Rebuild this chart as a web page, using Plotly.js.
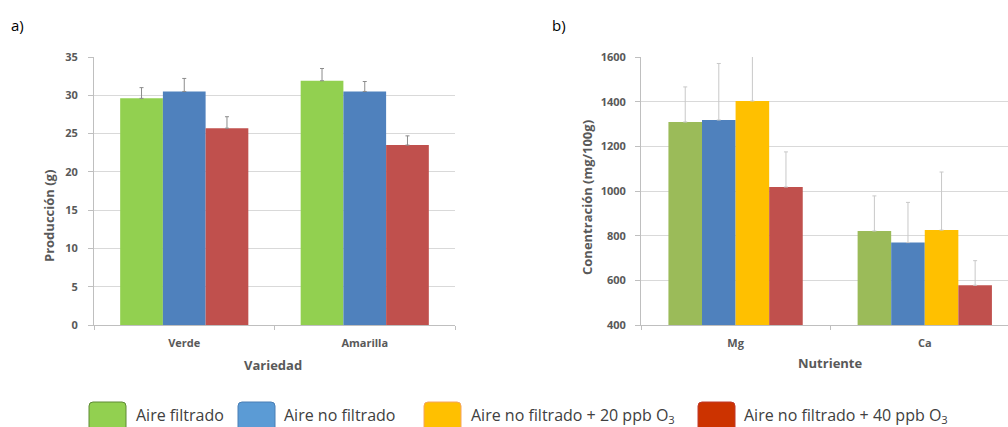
<!DOCTYPE html>
<html>
<head>
<meta charset="utf-8">
<script src="https://cdn.plot.ly/plotly-3.0.1.min.js"></script>
<style>html,body{margin:0;padding:0;background:#fff;}#chart{width:1008px;height:427px;}</style>
</head>
<body>
<div id="chart"></div>
<script>
// ---- Data: panel a) Producción (g) por variedad ----
var variedades = ["Verde", "Amarilla"];
var prodFiltrado = [29.6, 31.9];
var prodFiltradoErr = [1.4, 1.6];
var prodNoFiltrado = [30.5, 30.5];
var prodNoFiltradoErr = [1.7, 1.3];
var prod40 = [25.7, 23.5];
var prod40Err = [1.5, 1.2];

// ---- Data: panel b) Concentración (mg/100g) por nutriente ----
var nutrientes = ["Mg", "Ca"];
var concFiltrado = [1309, 821];
var concFiltradoErr = [157, 157];
var concNoFiltrado = [1318, 769];
var concNoFiltradoErr = [253, 180];
var conc20 = [1403, 825];
var conc20Err = [200, 260];
var conc40 = [1018, 578];
var conc40Err = [157, 110];

// ---- Legend labels ----
var legendLabels = ["Aire filtrado", "Aire no filtrado", "Aire no filtrado + 20 ppb O<sub>3</sub>", "Aire no filtrado + 40 ppb O<sub>3</sub>"];

var W = 1008, H = 427;
var tickFont = {family: "Open Sans", size: 11, color: "#595959", weight: "bold"};
var titleFont = {family: "Open Sans", size: 13, color: "#595959", weight: "bold"};

function errA(arr){ return {type:"data", symmetric:false, array:arr, arrayminus:arr.map(function(){return 0;}), color:"#8c8c8c", thickness:1, width:2}; }
function errB(arr){ return {type:"data", symmetric:false, array:arr, arrayminus:arr.map(function(){return 0;}), color:"#c8c8c8", thickness:1, width:2}; }

var traces = [
  {type:"bar", x:variedades, y:prodFiltrado, name:"Aire filtrado", marker:{color:"#92D050"}, error_y:errA(prodFiltradoErr), xaxis:"x", yaxis:"y"},
  {type:"bar", x:variedades, y:prodNoFiltrado, name:"Aire no filtrado", marker:{color:"#4F81BD"}, error_y:errA(prodNoFiltradoErr), xaxis:"x", yaxis:"y"},
  {type:"bar", x:variedades, y:prod40, name:"Aire no filtrado + 40 ppb O3", marker:{color:"#C0504D"}, error_y:errA(prod40Err), xaxis:"x", yaxis:"y"},
  {type:"bar", x:nutrientes, y:concFiltrado, name:"Aire filtrado", marker:{color:"#9BBB59"}, error_y:errB(concFiltradoErr), xaxis:"x2", yaxis:"y2"},
  {type:"bar", x:nutrientes, y:concNoFiltrado, name:"Aire no filtrado", marker:{color:"#4F81BD"}, error_y:errB(concNoFiltradoErr), xaxis:"x2", yaxis:"y2"},
  {type:"bar", x:nutrientes, y:conc20, name:"Aire no filtrado + 20 ppb O3", marker:{color:"#FFC000"}, error_y:errB(conc20Err), xaxis:"x2", yaxis:"y2"},
  {type:"bar", x:nutrientes, y:conc40, name:"Aire no filtrado + 40 ppb O3", marker:{color:"#C0504D"}, error_y:errB(conc40Err), xaxis:"x2", yaxis:"y2"}
];
traces.forEach(function(t){ t.marker.line = {width:0}; t.showlegend = false; });

function px(x){ return x / W; }
function py(y){ return 1 - y / H; }

var yDom = [py(325), py(57)];

var layout = {
  width: W, height: H,
  margin: {l:0, r:0, t:0, b:0},
  paper_bgcolor: "#ffffff", plot_bgcolor: "#ffffff",
  showlegend: false,
  barmode: "group",
  bargap: 0.29,
  font: {family: "Open Sans", color: "#595959"},
  xaxis: {domain:[px(94), px(455)], type:"category", tickfont:tickFont, showline:true, linecolor:"#bfbfbf", linewidth:1,
          ticks:"outside", ticklen:4, tickcolor:"#bfbfbf", tickson:"boundaries", showgrid:false, anchor:"y", ticklabelstandoff:8},
  yaxis: {domain:yDom, range:[0,35], dtick:5, tickfont:tickFont, showline:true, linecolor:"#bfbfbf", linewidth:1,
          ticks:"outside", ticklen:5, tickcolor:"#bfbfbf", gridcolor:"#d9d9d9", gridwidth:1, zeroline:false, anchor:"x", ticklabelstandoff:8},
  xaxis2: {domain:[px(641), 1], type:"category", range:[-0.5, 1.44], tickfont:tickFont, showline:true, linecolor:"#bfbfbf", linewidth:1,
          ticks:"outside", ticklen:4, tickcolor:"#bfbfbf", tickson:"boundaries", showgrid:false, anchor:"y2", ticklabelstandoff:8},
  yaxis2: {domain:yDom, range:[400,1600], dtick:200, tickfont:tickFont, showline:true, linecolor:"#bfbfbf", linewidth:1,
          ticks:"outside", ticklen:5, tickcolor:"#bfbfbf", gridcolor:"#d9d9d9", gridwidth:1, zeroline:false, anchor:"x2", ticklabelstandoff:7},
  annotations: [],
  shapes: []
};

// Panel labels and axis titles
layout.annotations.push({text:"a)", xref:"paper", yref:"paper", x:px(9), y:py(25), xanchor:"left", yanchor:"middle", showarrow:false, font:{family:"Open Sans", size:15, color:"#000"}});
layout.annotations.push({text:"b)", xref:"paper", yref:"paper", x:px(550), y:py(25), xanchor:"left", yanchor:"middle", showarrow:false, font:{family:"Open Sans", size:15, color:"#000"}});
layout.annotations.push({text:"Producción (g)", xref:"paper", yref:"paper", x:px(49), y:py(216), xanchor:"center", yanchor:"middle", textangle:-90, showarrow:false, font:titleFont});
layout.annotations.push({text:"Variedad", xref:"paper", yref:"paper", x:px(273), y:py(365), xanchor:"center", yanchor:"middle", showarrow:false, font:titleFont});
layout.annotations.push({text:"Conentración (mg/100g)", xref:"paper", yref:"paper", x:px(587), y:py(198), xanchor:"center", yanchor:"middle", textangle:-90, showarrow:false, font:titleFont});
layout.annotations.push({text:"Nutriente", xref:"paper", yref:"paper", x:px(830), y:py(363), xanchor:"center", yanchor:"middle", showarrow:false, font:titleFont});

// Custom legend (rounded swatches)
var swatchFill = ["#92D050", "#5B9BD5", "#FFC000", "#CC3300"];
var swatchLine = ["#5E8A34", "#4A7FB5", "#F4A460", "#C0392B"];
var swatchX = [89, 238, 424, 698];
var textX = [134, 282, 469, 742];
function roundedRect(x0, y0, x1, y1, r){
  var rx = r / W, ry = r / H;
  var X0 = px(x0), X1 = px(x1), Y0 = py(y0), Y1 = py(y1);
  return "M" + (X0+rx) + "," + Y0 + " L" + (X1-rx) + "," + Y0 + " Q" + X1 + "," + Y0 + " " + X1 + "," + (Y0-ry) +
         " L" + X1 + "," + (Y1+ry) + " Q" + X1 + "," + Y1 + " " + (X1-rx) + "," + Y1 +
         " L" + (X0+rx) + "," + Y1 + " Q" + X0 + "," + Y1 + " " + X0 + "," + (Y1+ry) +
         " L" + X0 + "," + (Y0-ry) + " Q" + X0 + "," + Y0 + " " + (X0+rx) + "," + Y0 + " Z";
}
for (var i = 0; i < 4; i++) {
  layout.shapes.push({type:"path", xref:"paper", yref:"paper", path:roundedRect(swatchX[i], 402, swatchX[i]+37, 438, 4),
                      fillcolor:swatchFill[i], line:{color:swatchLine[i], width:1}});
  layout.annotations.push({text:legendLabels[i], xref:"paper", yref:"paper", x:px(textX[i]), y:py(415), xanchor:"left", yanchor:"middle",
                           showarrow:false, font:{family:"Open Sans", size:16, color:"#404040"}});
}

Plotly.newPlot("chart", traces, layout, {displayModeBar:false, staticPlot:true});
</script>
</body>
</html>
